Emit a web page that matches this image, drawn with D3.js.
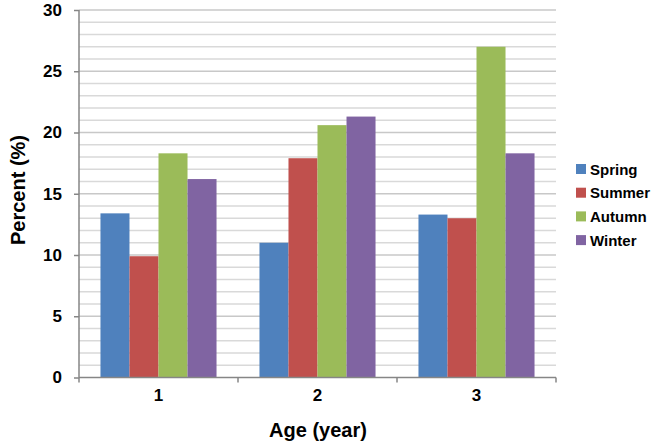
<!doctype html>
<html>
<head>
<meta charset="utf-8">
<title>Percent by age and season</title>
<script src="https://cdn.jsdelivr.net/npm/d3@7"></script>
<style>
  body { margin: 0; background: #fff; }
  text { font-family: "Liberation Sans", Arial, sans-serif; font-weight: bold; fill: #000; }
</style>
</head>
<body>
<script>
var ages = ["1", "2", "3"];
var seasons = ["Spring", "Summer", "Autumn", "Winter"];
var spring = [13.4, 11.0, 13.3];
var summer = [9.9, 17.9, 13.0];
var autumn = [18.3, 20.6, 27.0];
var winter = [16.2, 21.3, 18.3];
var yTicks = [0, 5, 10, 15, 20, 25, 30];
var colors = ["#4f81bd", "#c0504d", "#9bbb59", "#8064a2"];

var series = [spring, summer, autumn, winter];
var width = 653, height = 444;
var plotLeft = 79, plotRight = 556, plotTop = 10, plotBottom = 377.5;

var svg = d3.select("body").append("svg")
  .attr("width", width).attr("height", height);

var x = d3.scaleBand().domain(ages).range([plotLeft, plotRight]);
var x1 = d3.scaleBand().domain(seasons).range([0, x.bandwidth()]).paddingOuter(0.74).paddingInner(0);
var y = d3.scaleLinear().domain([0, 30]).range([plotBottom, plotTop]);

// gridlines, one per unit
svg.append("g").selectAll("line")
  .data(d3.range(1, 31))
  .enter().append("line")
  .attr("x1", plotLeft).attr("x2", plotRight)
  .attr("y1", function(d) { return y(d); })
  .attr("y2", function(d) { return y(d); })
  .attr("stroke", function(d) { return d % 5 == 0 ? "#c8c8c8" : "#d9d9d9"; })
  .attr("stroke-width", 1.3);

// bars
var groups = svg.append("g").selectAll("g")
  .data(ages)
  .enter().append("g")
  .attr("transform", function(d) { return "translate(" + x(d) + ",0)"; });

groups.selectAll("rect")
  .data(function(d, i) { return seasons.map(function(s, j) { return {s: s, v: series[j][i], c: colors[j]}; }); })
  .enter().append("rect")
  .attr("x", function(d) { return x1(d.s); })
  .attr("width", x1.bandwidth())
  .attr("y", function(d) { return y(d.v); })
  .attr("height", function(d) { return plotBottom - y(d.v); })
  .attr("fill", function(d) { return d.c; });

// y axis
var yAxis = svg.append("g")
  .attr("transform", "translate(" + plotLeft + ",0)")
  .call(d3.axisLeft(y).tickValues(yTicks).tickSize(5).tickPadding(12));
yAxis.select(".domain").attr("stroke", "#868686").attr("stroke-width", 1.5).attr("d", "M0," + plotTop + "V" + plotBottom);
yAxis.selectAll(".tick line").attr("stroke", "#868686").attr("stroke-width", 1.5);
yAxis.selectAll("text").style("font-size", "17px").style("font-family", "Liberation Sans, Arial, sans-serif").style("font-weight", "bold").attr("fill", "#000");

// x axis
var xAxis = svg.append("g")
  .attr("transform", "translate(0," + plotBottom + ")")
  .call(d3.axisBottom(x).tickSize(0).tickPadding(11));
xAxis.select(".domain").attr("stroke", "#868686").attr("stroke-width", 1.5).attr("d", "M" + plotLeft + ",0H" + plotRight);
xAxis.selectAll("text").style("font-size", "17px").style("font-family", "Liberation Sans, Arial, sans-serif").style("font-weight", "bold").attr("fill", "#000");
xAxis.append("g").selectAll("line")
  .data(ages.concat(["end"]))
  .enter().append("line")
  .attr("x1", function(d, i) { return plotLeft + i * x.bandwidth(); })
  .attr("x2", function(d, i) { return plotLeft + i * x.bandwidth(); })
  .attr("y1", 0).attr("y2", 5)
  .attr("stroke", "#868686").attr("stroke-width", 1.5);

// axis titles
svg.append("text")
  .attr("x", 318).attr("y", 437)
  .attr("text-anchor", "middle")
  .style("font-size", "20px")
  .text("Age (year)");

svg.append("text")
  .attr("transform", "translate(25,190) rotate(-90)")
  .attr("text-anchor", "middle")
  .style("font-size", "20px")
  .text("Percent (%)");

// legend
var legend = svg.append("g").selectAll("g")
  .data(seasons)
  .enter().append("g")
  .attr("transform", function(d, i) { return "translate(576," + (169 + i * 23.7) + ")"; });
legend.append("rect")
  .attr("x", 0).attr("y", -5).attr("width", 10).attr("height", 10)
  .attr("fill", function(d, i) { return colors[i]; });
legend.append("text")
  .attr("x", 14).attr("y", 5.5)
  .style("font-size", "15px")
  .text(function(d) { return d; });
</script>
</body>
</html>
